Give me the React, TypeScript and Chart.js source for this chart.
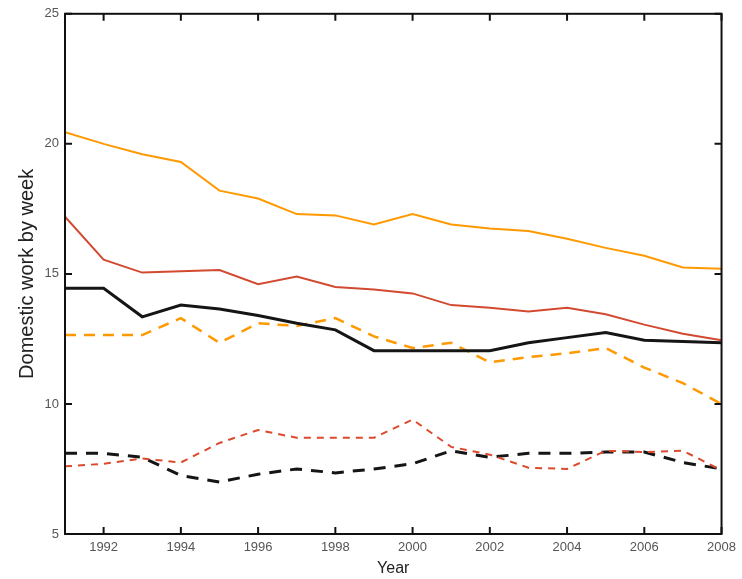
import React, { useEffect, useRef } from "react";
import { Chart, registerables } from "chart.js";

Chart.register(...registerables);

const years = [1991, 1992, 1993, 1994, 1995, 1996, 1997, 1998, 1999, 2000, 2001, 2002, 2003, 2004, 2005, 2006, 2007, 2008];

const orangeSolid = [20.45, 20.0, 19.6, 19.3, 18.2, 17.9, 17.3, 17.25, 16.9, 17.3, 16.9, 16.75, 16.65, 16.35, 16.0, 15.7, 15.25, 15.2];
const redSolid = [17.2, 15.55, 15.05, 15.1, 15.15, 14.6, 14.9, 14.5, 14.4, 14.25, 13.8, 13.7, 13.55, 13.7, 13.45, 13.05, 12.7, 12.45];
const blackSolid = [14.45, 14.45, 13.35, 13.8, 13.65, 13.4, 13.1, 12.85, 12.05, 12.05, 12.05, 12.05, 12.35, 12.55, 12.75, 12.45, 12.4, 12.35];
const orangeDashed = [12.65, 12.65, 12.65, 13.3, 12.35, 13.1, 13.0, 13.3, 12.6, 12.15, 12.35, 11.6, 11.8, 11.95, 12.15, 11.4, 10.8, 10.0];
const redDashed = [7.6, 7.7, 7.9, 7.75, 8.5, 9.0, 8.7, 8.7, 8.7, 9.4, 8.35, 8.05, 7.55, 7.5, 8.2, 8.15, 8.2, 7.45];
const blackDashed = [8.1, 8.1, 7.95, 7.25, 7.0, 7.3, 7.5, 7.35, 7.5, 7.7, 8.2, 7.95, 8.1, 8.1, 8.15, 8.15, 7.75, 7.5];

const xTickValues = [1992, 1994, 1996, 1998, 2000, 2002, 2004, 2006, 2008];
const yTickValues = [5, 10, 15, 20, 25];

const xTitle = "Year";
const yTitle = "Domestic work by week";

const FONT = "'Liberation Sans', Arial, Helvetica, sans-serif";

const framePlugin = {
  id: "frameTicks",
  afterDatasetsDraw(chart: any) {
    const { ctx, chartArea, scales } = chart;
    const { left, right, top, bottom } = chartArea;
    const x = scales.x;
    const y = scales.y;
    const tl = 7;
    ctx.save();
    ctx.strokeStyle = "#111";
    ctx.lineWidth = 2;
    ctx.strokeRect(left, top, right - left, bottom - top);
    ctx.beginPath();
    for (const v of xTickValues) {
      const px = x.getPixelForValue(v);
      ctx.moveTo(px, bottom);
      ctx.lineTo(px, bottom - tl);
      ctx.moveTo(px, top);
      ctx.lineTo(px, top + tl);
    }
    for (const v of yTickValues) {
      const py = y.getPixelForValue(v);
      ctx.moveTo(left, py);
      ctx.lineTo(left + tl, py);
      ctx.moveTo(right, py);
      ctx.lineTo(right - tl, py);
    }
    ctx.stroke();
    ctx.restore();
  },
};

function series(vals: number[]) {
  return years.map((yr, i) => ({ x: yr, y: vals[i] }));
}

export default function App() {
  const canvasRef = useRef<HTMLCanvasElement | null>(null);

  useEffect(() => {
    if (!canvasRef.current) return;
    const chart = new Chart(canvasRef.current, {
      type: "line",
      data: {
        datasets: [
          { label: "orange solid", data: series(orangeSolid), borderColor: "#FF9900", borderWidth: 2, pointRadius: 0, tension: 0 },
          { label: "red solid", data: series(redSolid), borderColor: "#D24A30", borderWidth: 2, pointRadius: 0, tension: 0 },
          { label: "black solid", data: series(blackSolid), borderColor: "#151515", borderWidth: 3, pointRadius: 0, tension: 0 },
          { label: "orange dashed", data: series(orangeDashed), borderColor: "#FF9900", borderWidth: 2.5, borderDash: [11, 8], pointRadius: 0, tension: 0 },
          { label: "red dashed", data: series(redDashed), borderColor: "#DC4A2C", borderWidth: 2, borderDash: [7, 6], pointRadius: 0, tension: 0 },
          { label: "black dashed", data: series(blackDashed), borderColor: "#151515", borderWidth: 3, borderDash: [12, 9], pointRadius: 0, tension: 0 },
        ],
      },
      options: {
        animation: false,
        responsive: false,
        devicePixelRatio: 1,
        layout: { padding: { top: 12, right: 19, left: 0, bottom: 0 } },
        plugins: { legend: { display: false }, tooltip: { enabled: false } },
        scales: {
          x: {
            type: "linear",
            min: 1991,
            max: 2008,
            grid: { display: false, drawTicks: false, tickLength: 0 },
            border: { display: false },
            afterBuildTicks: (scale: any) => {
              scale.ticks = xTickValues.map((v) => ({ value: v }));
            },
            afterFit: (scale: any) => {
              scale.height = 45;
            },
            ticks: {
              padding: 6,
              color: "#555",
              font: { family: FONT, size: 13 },
              maxRotation: 0,
              autoSkip: false,
              callback: (v: any) => String(v),
            },
            title: {
              display: true,
              text: xTitle,
              color: "#222",
              font: { family: FONT, size: 16 },
              padding: { top: 0, bottom: 1 },
            },
          },
          y: {
            type: "linear",
            min: 5,
            max: 25,
            grid: { display: false, drawTicks: false, tickLength: 0 },
            border: { display: false },
            afterBuildTicks: (scale: any) => {
              scale.ticks = yTickValues.map((v) => ({ value: v }));
            },
            afterFit: (scale: any) => {
              scale.width = 65;
            },
            ticks: {
              padding: 6,
              color: "#555",
              font: { family: FONT, size: 13 },
              callback: (v: any) => String(v),
            },
            title: {
              display: true,
              text: yTitle,
              color: "#222",
              font: { family: FONT, size: 20 },
              padding: { top: 15, bottom: 0 },
            },
          },
        },
      },
      plugins: [framePlugin],
    } as any);
    return () => chart.destroy();
  }, []);

  return (
    <div style={{ position: "absolute", left: 0, top: 0, width: 742, height: 579, background: "#fff" }}>
      <canvas ref={canvasRef} width={742} height={579} style={{ display: "block", width: 742, height: 579 }} />
    </div>
  );
}
